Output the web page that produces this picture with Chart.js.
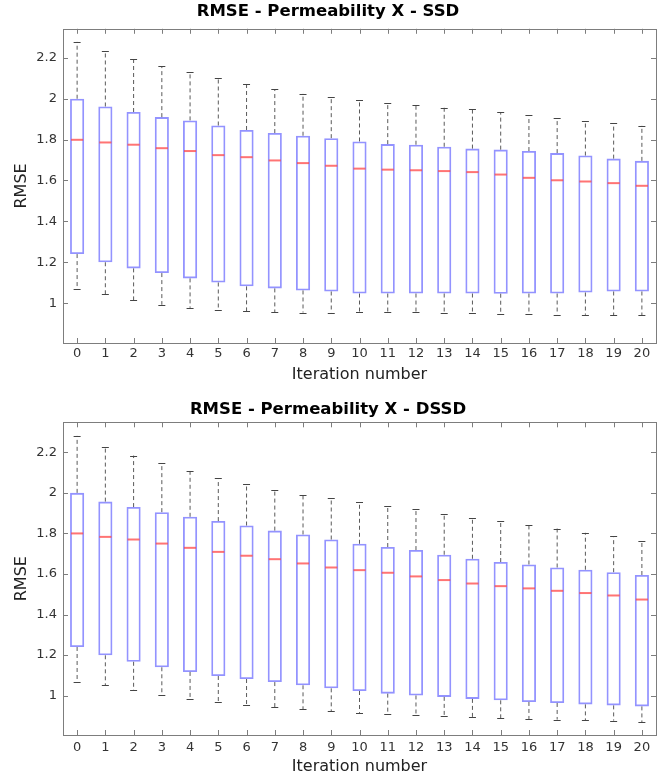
<!DOCTYPE html>
<html>
<head>
<meta charset="utf-8">
<script src="https://cdn.jsdelivr.net/npm/chart.js@4/dist/chart.umd.min.js"></script>
<style>
html,body{margin:0;padding:0;background:#fff;}
.box{position:relative;width:666px;height:389px;}
</style>
</head>
<body>
<div class="box"><canvas id="cSSD"></canvas></div>
<div class="box"><canvas id="cDSSD"></canvas></div>
<script>
/* ===== data ===== */
const iters=['0','1','2','3','4','5','6','7','8','9','10','11','12','13','14','15','16','17','18','19','20'];
const yTicks=[1,1.2,1.4,1.6,1.8,2,2.2];
const yTickText=['1','1.2','1.4','1.6','1.8','2','2.2'];

// SSD
const ssdHi =[2.278,2.234,2.195,2.160,2.129,2.099,2.072,2.046,2.025,2.006,1.995,1.980,1.971,1.957,1.948,1.933,1.920,1.905,1.892,1.879,1.868];
const ssdQ3 =[2.000,1.962,1.935,1.910,1.894,1.869,1.847,1.832,1.819,1.807,1.791,1.778,1.775,1.765,1.756,1.751,1.744,1.734,1.722,1.707,1.696];
const ssdMed=[1.799,1.786,1.775,1.758,1.744,1.724,1.714,1.698,1.685,1.672,1.658,1.653,1.650,1.646,1.641,1.629,1.613,1.601,1.595,1.587,1.574];
const ssdQ1 =[1.240,1.200,1.170,1.147,1.121,1.101,1.082,1.072,1.062,1.057,1.047,1.047,1.047,1.047,1.047,1.046,1.047,1.047,1.052,1.057,1.057];
const ssdLo =[1.067,1.043,1.013,0.992,0.977,0.967,0.961,0.956,0.954,0.954,0.956,0.957,0.959,0.954,0.951,0.949,0.946,0.944,0.943,0.941,0.941];

// DSSD
const dssdHi =[2.281,2.228,2.184,2.146,2.108,2.072,2.043,2.016,1.990,1.974,1.956,1.937,1.918,1.898,1.878,1.859,1.841,1.824,1.803,1.785,1.764];
const dssdQ3 =[2.000,1.957,1.930,1.905,1.882,1.861,1.839,1.814,1.795,1.770,1.749,1.733,1.718,1.695,1.675,1.659,1.647,1.632,1.621,1.609,1.595];
const dssdMed=[1.800,1.783,1.770,1.750,1.729,1.709,1.690,1.673,1.652,1.632,1.619,1.606,1.588,1.570,1.553,1.540,1.529,1.517,1.506,1.494,1.474];
const dssdQ1 =[1.240,1.199,1.167,1.140,1.117,1.097,1.082,1.067,1.051,1.036,1.023,1.010,1.001,0.994,0.984,0.977,0.969,0.964,0.957,0.952,0.947];
const dssdLo =[1.067,1.051,1.026,1.003,0.984,0.969,0.954,0.942,0.933,0.923,0.915,0.908,0.903,0.898,0.893,0.888,0.885,0.882,0.878,0.877,0.870];

/* ===== style ===== */
const FONT='"DejaVu Sans", sans-serif';
const BLUE='rgba(80,80,255,0.62)', RED='rgba(255,70,70,0.75)', WHISK='#5a5a5a', FRAME='#7d7d7d';

/* ---------- plugin: frame, inner ticks, whiskers, medians ---------- */
const boxExtras={id:'boxExtras',
  afterDatasetsDraw(c,args,o){
    const {ctx,chartArea:{left,right,top,bottom},scales:{x,y}}=c;
    const meta=c.getDatasetMeta(0);
    ctx.save();
    meta.data.forEach((bar,i)=>{
      const px=x.getPixelForValue(i), hw=bar.width/2;
      // whiskers
      ctx.strokeStyle=WHISK; ctx.lineWidth=1; ctx.setLineDash([4,3]);
      ctx.beginPath();
      ctx.moveTo(px,y.getPixelForValue(o.q3[i])); ctx.lineTo(px,y.getPixelForValue(o.hi[i]));
      ctx.moveTo(px,y.getPixelForValue(o.q1[i])); ctx.lineTo(px,y.getPixelForValue(o.lo[i]));
      ctx.stroke(); ctx.setLineDash([]);
      // caps
      ctx.strokeStyle='#444';
      ctx.beginPath();
      [o.hi[i],o.lo[i]].forEach(v=>{const py=Math.round(y.getPixelForValue(v))+0.5;
        ctx.moveTo(px-3.5,py); ctx.lineTo(px+3.5,py);});
      ctx.stroke();
      // median
      ctx.strokeStyle=RED; ctx.lineWidth=2;
      const pm=y.getPixelForValue(o.med[i]);
      ctx.beginPath(); ctx.moveTo(px-hw+1,pm); ctx.lineTo(px+hw-1,pm); ctx.stroke();
    });
    // frame
    ctx.strokeStyle=FRAME; ctx.lineWidth=1;
    ctx.strokeRect(Math.round(left)+0.5,Math.round(top)+0.5,Math.round(right-left),Math.round(bottom-top));
    // inner ticks
    ctx.beginPath();
    iters.forEach((_,i)=>{const px=Math.round(x.getPixelForValue(i))+0.5;
      ctx.moveTo(px,top); ctx.lineTo(px,top+5); ctx.moveTo(px,bottom); ctx.lineTo(px,bottom-5);});
    yTicks.forEach(v=>{const py=Math.round(y.getPixelForValue(v))+0.5;
      ctx.moveTo(left,py); ctx.lineTo(left+5,py); ctx.moveTo(right,py); ctx.lineTo(right-5,py);});
    ctx.stroke();
    ctx.restore();
  }};

/* ---------- chart factory ---------- */
function makeChart(id,title,s,lay){
  return new Chart(document.getElementById(id),{
    type:'bar',
    data:{labels:iters,datasets:[{
      data:s.q1.map((v,i)=>[v,s.q3[i]]),
      backgroundColor:'rgba(255,255,255,0)',borderColor:BLUE,borderWidth:1.8,borderSkipped:false,
      barPercentage:0.5,categoryPercentage:1
    }]},
    options:{
      responsive:true,maintainAspectRatio:false,animation:false,
      layout:{padding:{top:0,left:0,right:10,bottom:0}},
      plugins:{
        legend:{display:false},tooltip:{enabled:false},
        title:{display:true,text:title,color:'#000',font:{family:FONT,size:16.5,weight:'bold'},
               padding:{top:lay.titleTop,bottom:lay.titleBottom}},
        boxExtras:s
      },
      scales:{
        x:{grid:{display:false,drawTicks:false},border:{display:false},
           ticks:{color:'#333',font:{family:FONT,size:13},padding:lay.xPad,autoSkip:false,maxRotation:0},
           title:{display:true,text:'Iteration number',color:'#222',font:{family:FONT,size:16},padding:{top:0,bottom:lay.xTitleBottom}},
           afterFit:sc=>{sc.height=lay.xH;}},
        y:{min:lay.min,max:lay.max,grid:{display:false,drawTicks:false},border:{display:false},
           afterBuildTicks:sc=>{sc.ticks=yTicks.map(v=>({value:v}));},
           ticks:{color:'#333',font:{family:FONT,size:13},padding:6,callback:(v,i)=>yTickText[i]},
           title:{display:true,text:'RMSE',color:'#222',font:{family:FONT,size:16},padding:{top:12,bottom:0}},
           afterFit:sc=>{sc.width=63;}}
      }
    },
    plugins:[boxExtras]
  });
}

makeChart('cSSD','RMSE - Permeability X - SSD',
  {hi:ssdHi,q3:ssdQ3,med:ssdMed,q1:ssdQ1,lo:ssdLo},
  {titleTop:2,titleBottom:7,xH:46,xPad:3,xTitleBottom:5,min:0.805,max:2.342});
makeChart('cDSSD','RMSE - Permeability X - DSSD',
  {hi:dssdHi,q3:dssdQ3,med:dssdMed,q1:dssdQ1,lo:dssdLo},
  {titleTop:11,titleBottom:2.5,xH:43,xPad:5,xTitleBottom:2,min:0.806,max:2.348});
</script>
</body>
</html>
